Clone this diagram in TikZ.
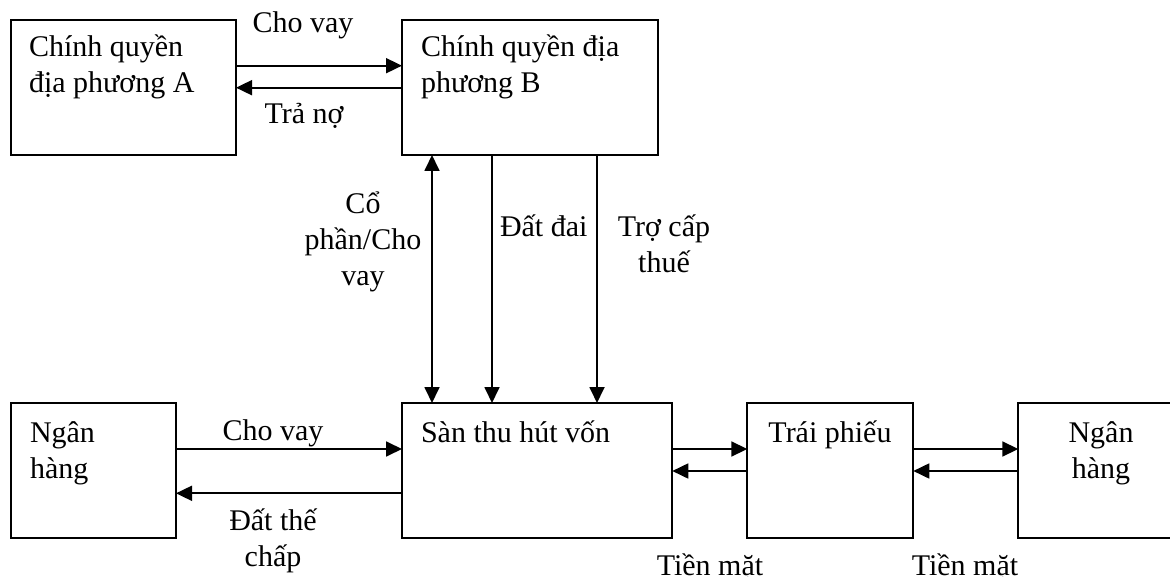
\documentclass[tikz,border=0pt]{standalone}
\usepackage{fontspec}
\setmainfont{Liberation Serif}
\usetikzlibrary{arrows.meta}

\begin{document}
\begin{tikzpicture}[x=1pt,y=-1pt,
  every node/.style={font=\fontsize{30}{36}\selectfont},
  box/.style={draw, line width=1.7pt, minimum height=135pt, inner sep=0pt, outer sep=0pt},
  txt/.style={inner sep=0pt, outer sep=0pt},
  arr/.style={line width=1.8pt, -{Triangle[length=16pt,width=15pt]}},
  dblarr/.style={line width=1.8pt, {Triangle[length=16pt,width=15pt]}-{Triangle[length=16pt,width=15pt]}}
]
\useasboundingbox (0,0) rectangle (1170,577);
\clip (0,0) rectangle (1170,577);

% boxes
\node[box, minimum width=225pt] (A) at (123.5,87.5) {};
\node[box, minimum width=255.7pt] (B) at (529.85,87.5) {};
\node[box, minimum width=165pt] (NL) at (93.5,470.5) {};
\node[box, minimum width=270.3pt] (S) at (537.15,470.5) {};
\node[box, minimum width=166pt] (T) at (830.3,470.5) {};
\node[box, minimum width=166.7pt] (NR) at (1101.65,470.5) {};

% box texts (base anchor of a multi-line node sits on its last line)
\node[txt, anchor=base west, align=left] (tA) at (29,93) {Chính quyền\\địa phương A};
\node[txt, anchor=base west, align=left] (tB) at (421,93) {Chính quyền địa\\phương B};
\node[txt, anchor=base west, align=left] (tNL) at (30,478) {Ngân\\hàng};
\node[txt, anchor=base west] (tS) at (421,442) {Sàn thu hút vốn};
\node[txt, anchor=base] (tT) at (830,442) {Trái phiếu};
\node[txt, anchor=base, align=center] (tNR) at (1101,478) {Ngân\\hàng};

% top connectors
\draw[arr] ([yshift=21.8pt]A.east) -- ([yshift=21.8pt]B.west);
\draw[arr] ([yshift=-0.2pt]B.west) -- ([yshift=-0.2pt]A.east);
\node[txt, anchor=base] (l1) at (303,33) {Cho vay};
\node[txt, anchor=base] (l2) at (304,124) {Trả nợ};

% vertical connectors
\draw[dblarr] ([xshift=30pt]B.south west) -- ([xshift=30pt]B.south west |- S.north);
\draw[arr] ([xshift=90pt]B.south west) -- ([xshift=90pt]B.south west |- S.north);
\draw[arr] ([xshift=195pt]B.south west) -- ([xshift=195pt]B.south west |- S.north);
\node[txt, anchor=base, align=center] (l3) at (363,286) {Cổ\\phần/Cho\\vay};
\node[txt, anchor=base west] (l4) at (500,237) {Đất đai};
\node[txt, anchor=base, align=center] (l5) at (664,273) {Trợ cấp\\thuế};

% bottom connectors
\draw[arr] ([yshift=21.5pt]NL.east) -- ([yshift=21.5pt]S.west);
\draw[arr] ([yshift=-22.8pt]S.west) -- ([yshift=-22.8pt]NL.east);
\node[txt, anchor=base] (l6) at (273,440) {Cho vay};
\node[txt, anchor=base, align=center] (l7) at (273,566) {Đất thế\\chấp};

\draw[arr] ([yshift=21.5pt]S.east) -- ([yshift=21.5pt]T.west);
\draw[arr] ([yshift=-0.5pt]T.west) -- ([yshift=-0.5pt]S.east);
\draw[arr] ([yshift=21.5pt]T.east) -- ([yshift=21.5pt]NR.west);
\draw[arr] ([yshift=-0.5pt]NR.west) -- ([yshift=-0.5pt]T.east);
\node[txt, anchor=base] (l8) at (710,575) {Tiền mặt};
\node[txt, anchor=base] (l9) at (965,575) {Tiền mặt};
\end{tikzpicture}
\end{document}
